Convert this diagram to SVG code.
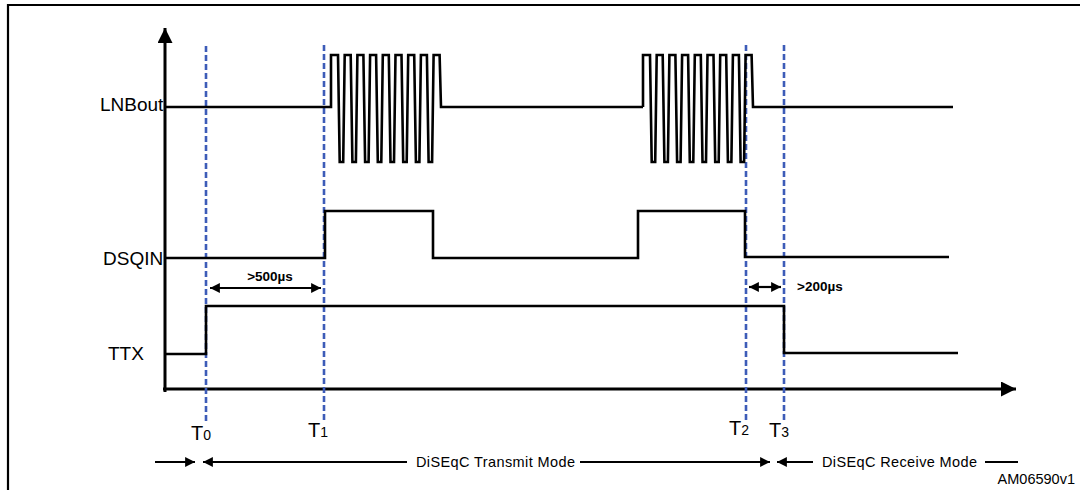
<svg xmlns="http://www.w3.org/2000/svg" width="1080" height="490" viewBox="0 0 1080 490">
<style>
.sig{fill:none;stroke:#000;stroke-width:2.6;stroke-linejoin:miter}
.axis{fill:none;stroke:#000;stroke-width:3}
.dash{fill:none;stroke:#3d5cb8;stroke-width:2.6;stroke-dasharray:6 3}
.lbl{font-family:"Liberation Sans",Arial,sans-serif;font-size:19px;fill:#000}
.tl{font-family:"Liberation Sans",Arial,sans-serif;font-size:20px;fill:#000}
.sub{font-size:14px}
.dur{font-family:"Liberation Sans",Arial,sans-serif;font-size:13.5px;font-weight:bold;fill:#000}
.mode{font-family:"Liberation Sans",Arial,sans-serif;font-size:14.5px;fill:#000}
.thin{fill:none;stroke:#000;stroke-width:2.2}
</style>
<defs>
<marker id="ah" viewBox="0 0 10 10" refX="10" refY="5" markerWidth="5" markerHeight="5" markerUnits="strokeWidth" orient="auto-start-reverse">
<path d="M0,0 L10,5 L0,10 z" fill="#000"/>
</marker>
<marker id="ahs" viewBox="0 0 10 10" refX="10" refY="5" markerWidth="4.5" markerHeight="4.5" markerUnits="strokeWidth" orient="auto-start-reverse">
<path d="M0,0 L10,5 L0,10 z" fill="#000"/>
</marker>
</defs>
<rect width="1080" height="490" fill="#fff"/>
<g id="frame">
<path d="M8,490 V5 H1080" fill="none" stroke="#000" stroke-width="2.2"/>
</g>
<g id="axes">
<line class="axis" x1="165" y1="392" x2="165" y2="28" marker-end="url(#ah)"/>
<line class="axis" x1="163" y1="389" x2="1016" y2="389" marker-end="url(#ah)"/>
</g>
<g id="markers">
<line class="dash" x1="206" y1="46" x2="206" y2="422"/>
<line class="dash" x1="324" y1="45" x2="324" y2="420"/>
<line class="dash" x1="746" y1="45" x2="746" y2="420"/>
<line class="dash" x1="784" y1="45" x2="784" y2="420"/>
</g>
<g id="lnbout">
<text class="lbl" x="100" y="111">LNBout</text>
<polyline class="sig" points="165,107 331,107 331,55 338,55 339.7,162 343.2,162 344.7,55 350.7,55 352.4,162 355.9,162 357.4,55 363.4,55 365.1,162 368.6,162 370.1,55 376.1,55 377.8,162 381.3,162 382.8,55 388.8,55 390.5,162 394,162 395.5,55 401.5,55 403.2,162 406.7,162 408.2,55 414.2,55 415.9,162 419.4,162 420.9,55 426.9,55 428.6,162 432.1,162 433.6,55 439.6,55 441,107 643,107"/>
<polyline class="sig" points="643,107 643,55 650,55 651.7,162 655.2,162 656.7,55 662.7,55 664.4,162 667.9,162 669.4,55 675.4,55 677.1,162 680.6,162 682.1,55 688.1,55 689.8,162 693.3,162 694.8,55 700.8,55 702.5,162 706,162 707.5,55 713.5,55 715.2,162 718.7,162 720.2,55 726.2,55 727.9,162 731.4,162 732.9,55 738.9,55 740.6,162 744.1,162 745.6,55 751.6,55 753,107 953,107"/>
</g>
<g id="dsqin">
<text class="lbl" x="103" y="265">DSQIN</text>
<polyline class="sig" points="165,258 325,258 325,211 433,211 433,258 638,258 638,211 745,211 745,257 949,257"/>
</g>
<g id="ttx">
<text class="lbl" x="108" y="360">TTX</text>
<polyline class="sig" points="165,354 206,354 206,306 784,306 784,353 958,353"/>
</g>
<g id="connectors">
<line class="thin" x1="210" y1="288" x2="321" y2="288" marker-start="url(#ahs)" marker-end="url(#ahs)"/>
<line class="thin" x1="749" y1="287" x2="781" y2="287" marker-start="url(#ahs)" marker-end="url(#ahs)"/>
<line class="thin" x1="155" y1="462" x2="195" y2="462" marker-end="url(#ahs)"/>
<line class="thin" x1="203" y1="462" x2="407" y2="462" marker-start="url(#ahs)"/>
<line class="thin" x1="580" y1="462" x2="770" y2="462" marker-end="url(#ahs)"/>
<line class="thin" x1="777" y1="462" x2="813" y2="462" marker-start="url(#ahs)"/>
<line class="thin" x1="985" y1="462" x2="1018" y2="462"/>
</g>
<g id="durations">
<text class="dur" x="270" y="281" text-anchor="middle">&gt;500µs</text>
<text class="dur" x="797" y="291">&gt;200µs</text>
</g>
<g id="times">
<text class="tl" x="191" y="440">T<tspan class="sub" dy="0">0</tspan></text>
<text class="tl" x="308" y="437">T<tspan class="sub">1</tspan></text>
<text class="tl" x="729" y="435">T<tspan class="sub">2</tspan></text>
<text class="tl" x="769" y="437">T<tspan class="sub">3</tspan></text>
</g>
<g id="modes">
<text class="mode" x="416" y="467" textLength="159">DiSEqC Transmit Mode</text>
<text class="mode" x="822" y="467" textLength="155">DiSEqC Receive Mode</text>
<text class="mode" x="1075" y="484" text-anchor="end">AM06590v1</text>
</g>
</svg>
